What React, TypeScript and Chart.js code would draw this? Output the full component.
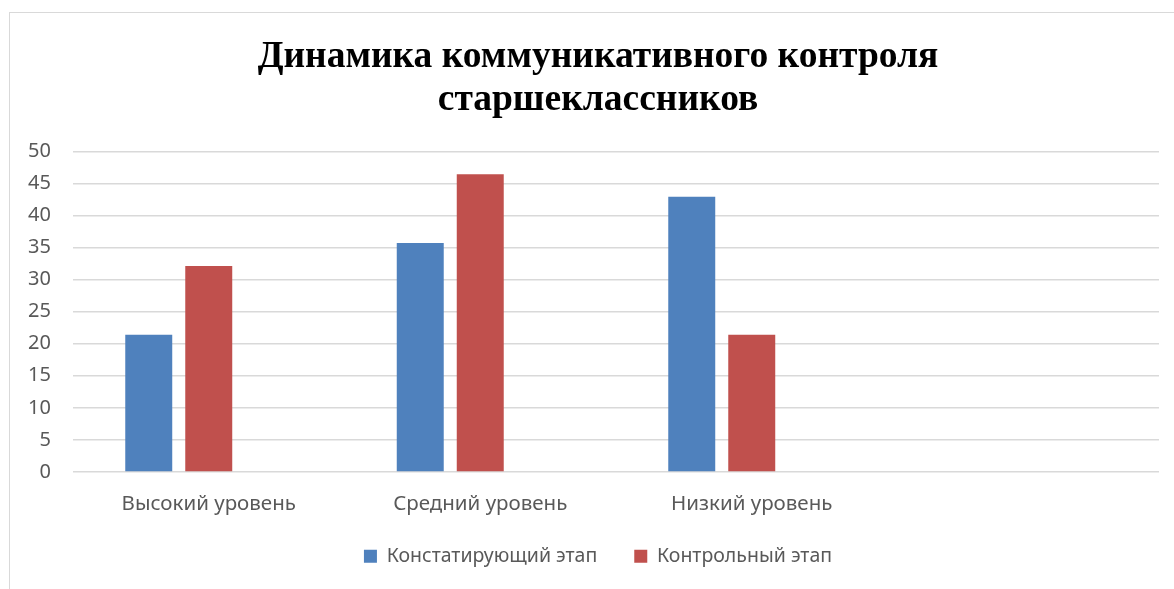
import React, { useEffect, useRef } from "react";
import { Chart, registerables } from "chart.js";

Chart.register(...registerables);

const categories = ["Высокий уровень", "Средний уровень", "Низкий уровень", ""];
const stageInitial = [21.4, 35.7, 42.9, null];
const stageControl = [32.1, 46.4, 21.4, null];
const stageExtra = [null, null, null, null];
const seriesNames = ["Констатирующий этап", "Контрольный этап", ""];
const titleLines = ["Динамика коммуникативного контроля", "старшеклассников"];
const yTicks = { min: 0, max: 50, step: 5 };

export default function App() {
  const ref = useRef<HTMLCanvasElement | null>(null);
  useEffect(() => {
    document.body.style.margin = "0";
    document.body.style.overflow = "hidden";
    const ctx = ref.current!;
    const font = "'Noto Sans', sans-serif";
    const chart = new Chart(ctx, {
      type: "bar",
      data: {
        labels: categories,
        datasets: [
          { label: seriesNames[0], data: stageInitial, backgroundColor: "#4f81bd" },
          { label: seriesNames[1], data: stageControl, backgroundColor: "#c0504d" },
          { label: seriesNames[2], data: stageExtra, backgroundColor: "#9bbb59" },
        ],
      },
      options: {
        animation: false,
        responsive: false,
        maintainAspectRatio: false,
        datasets: { bar: { categoryPercentage: 0.663, barPercentage: 0.783 } },
        layout: { padding: { left: 28, right: 32, top: 0, bottom: 13 } },
        plugins: {
          tooltip: { enabled: false },
          title: {
            display: true,
            text: titleLines,
            color: "#000",
            font: { family: "'Liberation Serif', 'Times New Roman', serif", size: 37.5, weight: "bold", lineHeight: 1.15 },
            padding: { top: 24, bottom: 29 },
          },
          legend: {
            position: "bottom",
            labels: {
              filter: (item: any) => !!item.text,
              boxWidth: 13,
              boxHeight: 13,
              color: "#595959",
              font: { family: font, size: 19.5 },
              padding: 37,
            },
          },
        },
        scales: {
          x: {
            grid: { display: false, drawTicks: false },
            border: { display: false },
            ticks: { color: "#595959", font: { family: font, size: 20.5 }, padding: 20 },
            afterFit: (s: any) => {
              s.height = 37.5;
              s._computeLabelArea = () => undefined;
            },
          },
          y: {
            min: yTicks.min,
            max: yTicks.max,
            ticks: { stepSize: yTicks.step, color: "#595959", font: { family: font, size: 20 }, padding: 22 },
            grid: { color: "#d9d9d9", lineWidth: 1.5, drawTicks: false },
            border: { display: false },
            afterFit: (s: any) => {
              s.width = 36;
              s._computeLabelArea = () => undefined;
            },
          },
        },
      },
    });
    return () => chart.destroy();
  }, []);
  return (
    <div style={{ position: "fixed", left: 0, top: 0, width: 1174, height: 589, overflow: "hidden", background: "#fff" }}>
      <div style={{ position: "absolute", left: 9, top: 12, width: 1200, height: 600, borderLeft: "1px solid #d9d9d9", borderTop: "1px solid #d9d9d9" }} />
      <canvas ref={ref} width={1182} height={577} style={{ position: "absolute", left: 9, top: 12 }} />
    </div>
  );
}
